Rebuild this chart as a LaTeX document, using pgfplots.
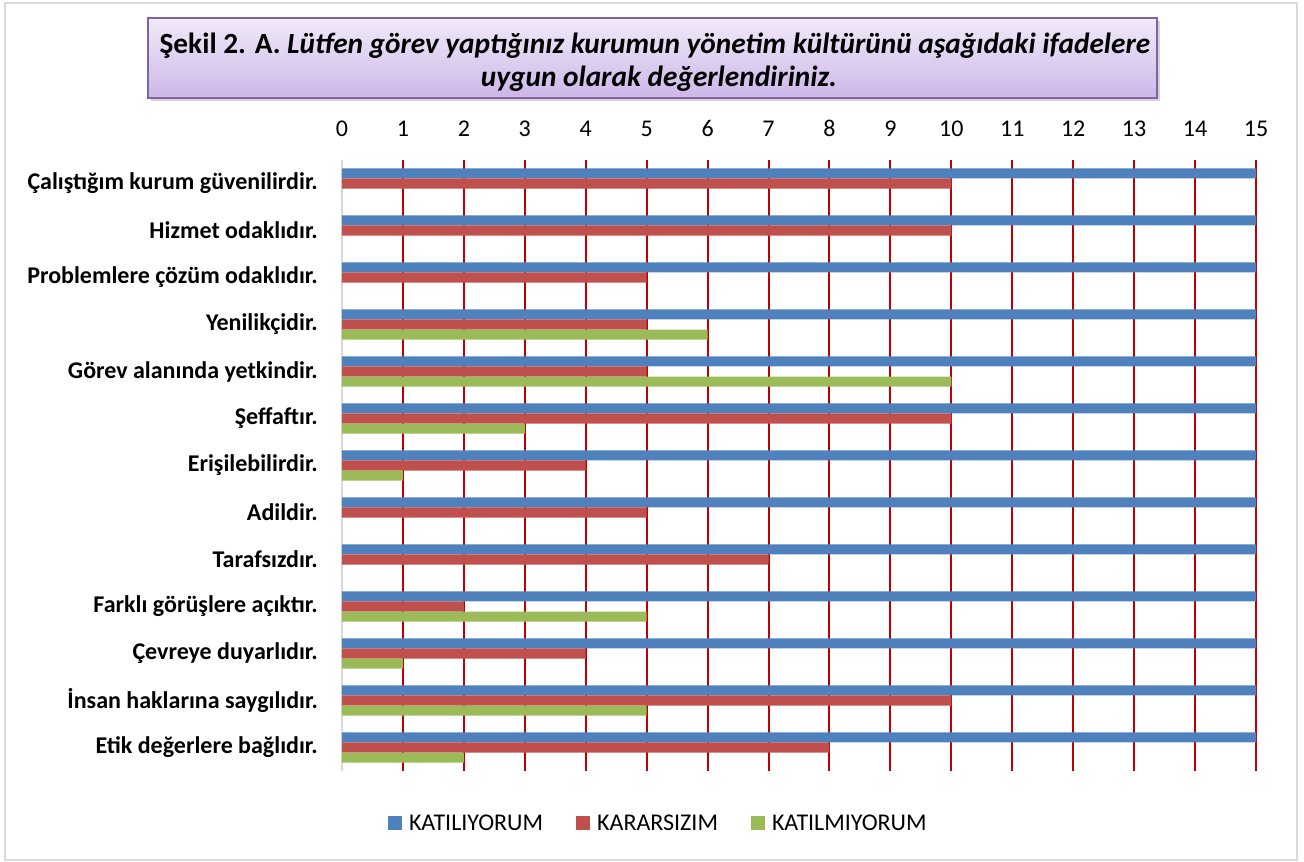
\documentclass[border=0pt]{standalone}
\usepackage{fontspec}
\setmainfont{Carlito}
\usepackage{pgfplots}
\usepackage{pgfplotstable}
\pgfplotsset{compat=1.18}
\usetikzlibrary{shadows}
\definecolor{cblue}{HTML}{4F81BD}
\definecolor{cred}{HTML}{C0504D}
\definecolor{cgreen}{HTML}{9BBB59}
\definecolor{cgrid}{HTML}{C00000}
\definecolor{frame}{HTML}{D9D9D9}
\definecolor{tborder}{HTML}{8064A2}
\definecolor{ttop}{HTML}{F1EAF9}
\definecolor{tbot}{HTML}{CCB7E8}
\newcommand\fs{\fontsize{24pt}{29pt}\selectfont}
\pgfplotsset{sqleg/.style={legend image code/.code={\fill[##1,draw=none] (0pt,-7pt) rectangle (14pt,7pt);}}}

\pgfplotstableread{
y kat kar katm
0 15 10 0
1 15 10 0
2 15 5 0
3 15 5 6
4 15 5 10
5 15 10 3
6 15 4 1
7 15 5 0
8 15 7 0
9 15 2 5
10 15 4 1
11 15 10 5
12 15 8 2
}\data

\begin{document}
\begin{tikzpicture}
\path[use as bounding box] (0pt,0pt) rectangle (1304pt,862pt);
\draw[frame, line width=2pt] (5pt,2pt) rectangle (1297pt,859pt);
\node[draw=tborder, line width=1.5pt, top color=ttop, bottom color=tbot,
  drop shadow={shadow xshift=3pt, shadow yshift=-3pt, opacity=0.35},
  minimum width=1009pt, minimum height=80pt, inner sep=0pt] at (652.5pt,804pt) {};
\node[anchor=base, inner sep=0pt, font=\fontsize{29.3pt}{34pt}\selectfont\bfseries] at (655pt,808pt)
  {Şekil 2. A. {\itshape Lütfen görev yaptığınız kurumun yönetim kültürünü aşağıdaki ifadelere}};
\node[anchor=base, inner sep=0pt, font=\fontsize{29.3pt}{34pt}\selectfont\bfseries\itshape] at (659pt,775pt)
  {uygun olarak değerlendiriniz.};
\begin{axis}[
  at={(342pt,91pt)}, anchor=south west, scale only axis,
  width=914pt, height=611pt,
  xmin=0, xmax=15, ymin=-0.5, ymax=12.5, y dir=reverse,
  axis x line*=top, axis y line*=left,
  x axis line style={draw=none},
  y axis line style={frame, line width=2.5pt},
  xtick={0,...,15}, ytick={0,...,12},
  yticklabels={Çalıştığım kurum güvenilirdir., Hizmet odaklıdır., Problemlere çözüm odaklıdır., Yenilikçidir., Görev alanında yetkindir., Şeffaftır., Erişilebilirdir., Adildir., Tarafsızdır., Farklı görüşlere açıktır., Çevreye duyarlıdır., İnsan haklarına saygılıdır., Etik değerlere bağlıdır.},
  major tick length=0pt,
  xmajorgrids, major grid style={cgrid, line width=2pt},
  /pgf/number format/assume math mode=true,
  xticklabel style={font=\fs, anchor=south, inner sep=0pt, yshift=23pt},
  yticklabel style={font=\fs\bfseries, anchor=east, inner sep=0pt, xshift=-24pt},
  xbar, bar width=0.215,
  legend columns=3,
  legend style={draw=none, fill=none, font=\fs, at={(axis description cs:0.345,-0.0851)}, anchor=center,
    nodes={inner sep=0pt},
    /tikz/every odd column/.append style={column sep=7pt},
    /tikz/every even column/.append style={column sep=33pt}},
]
\addplot[fill=cblue, draw=none, bar shift=-0.215, sqleg] table[x=kat, y=y] {\data};
\addlegendentry{KATILIYORUM}
\addplot[fill=cred, draw=none, bar shift=0, sqleg] table[x=kar, y=y] {\data};
\addlegendentry{KARARSIZIM}
\addplot[fill=cgreen, draw=none, bar shift=0.215, sqleg] table[x=katm, y=y] {\data};
\addlegendentry{KATILMIYORUM}
\end{axis}
\end{tikzpicture}
\end{document}
